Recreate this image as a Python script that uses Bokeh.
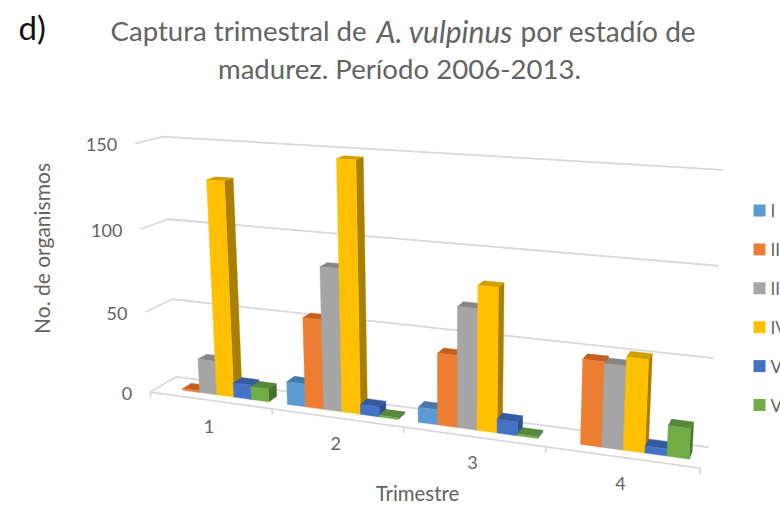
import numpy as np
from bokeh.plotting import figure
from bokeh.models import ColumnDataSource
from bokeh.core.properties import value
from bokeh.embed import file_html
from bokeh.resources import INLINE

quarters = ["1", "2", "3", "4"]
stages = ["I", "II", "III", "IV", "V", "VI"]
stage_I = [0, 14, 9, 0]
stage_II = [1, 54, 42, 48]
stage_III = [21, 85, 70, 47]
stage_IV = [130, 147, 83, 52]
stage_V = [9, 6, 8, 4]
stage_VI = [8, 1, 1, 17]
y_ticks = [0, 50, 100, 150]
series = [stage_I, stage_II, stage_III, stage_IV, stage_V, stage_VI]

front = ["#5B9BD5", "#ED7D31", "#A5A5A5", "#FFC000", "#4472C4", "#70AD47"]
top = ["#4478A8", "#C2601F", "#858585", "#D19E00", "#345AA0", "#55883A"]
side = ["#3B6A94", "#A85418", "#777777", "#A87F00", "#2D5091", "#46702E"]
GRID = "#D9D9D9"
TXT = "#636363"
FONT = "Lato"

# Camera calibration of the chart's 3D box: (quarter axis, depth, value) -> page pixel
cal = [
    (0, 0, 0, 150, 392), (1, 0, 0, 271, 408), (2, 0, 0, 403, 427), (3, 0, 0, 545, 447), (4, 0, 0, 700, 467),
    (0, 1, 0, 177, 376), (4, 1, 0, 708, 447),
    (0, 0, 50, 145, 312), (0, 1, 50, 170, 299), (4, 1, 50, 713, 357),
    (0, 0, 100, 140, 228), (0, 1, 100, 168, 219), (4, 1, 100, 718, 264),
    (0, 0, 150, 135, 143), (0, 1, 150, 162, 136), (4, 1, 150, 723, 171),
]
A = []
for u, d, v, x, y in cal:
    X = [u, d, v / 100, 1]
    A.append(X + [0, 0, 0, 0] + [-x * c for c in X])
    A.append([0, 0, 0, 0] + X + [-y * c for c in X])
P = np.linalg.svd(np.array(A, float))[2][-1].reshape(3, 4)


def proj(u, d, v):
    r = P @ np.array([u, d, v / 100, 1.0])
    return r[0] / r[2], r[1] / r[2]


def poly(pts):
    q = [proj(*c) for c in pts]
    return [a for a, _ in q], [b for _, b in q]


p = figure(width=780, height=506, x_range=(0, 780), y_range=(506, 0),
           output_backend="svg", toolbar_location=None, min_border=0,
           x_axis_type=None, y_axis_type=None, outline_line_color=None)
p.grid.visible = False
p.background_fill_color = "white"

# gridlines on the walls, floor edge, ticks
for t in y_ticks:
    a, b, c = proj(0, 0, t), proj(0, 1, t), proj(4, 1, t)
    p.line([a[0], b[0], c[0]], [a[1], b[1], c[1]], line_color=GRID, line_width=1.8)
a, b = proj(0, 0, 0), proj(4, 0, 0)
p.line([a[0], b[0]], [a[1], b[1]], line_color=GRID, line_width=1.8)
for i in range(5):
    a, b = proj(i, 0, 0), proj(i, 0, -3.5)
    p.line([a[0], b[0]], [a[1], b[1]], line_color=GRID, line_width=1.8)

# bars, painted left to right: side, top, front
U0, BW, D0, D1 = 0.06, 0.142, 0.33, 0.67
xs, ys, fills = [], [], []
for q in range(len(quarters)):
    for s, vals in enumerate(series):
        h = vals[q]
        if h <= 0:
            continue
        l = q + U0 + s * BW
        r = l + BW
        for pts, col in (
            ([(r, D0, 0), (r, D1, 0), (r, D1, h), (r, D0, h)], side[s]),
            ([(l, D0, h), (r, D0, h), (r, D1, h), (l, D1, h)], top[s]),
            ([(l, D0, 0), (r, D0, 0), (r, D0, h), (l, D0, h)], front[s]),
        ):
            a, b = poly(pts)
            xs.append(a)
            ys.append(b)
            fills.append(col)
p.patches("xs", "ys", fill_color="fills", line_color="fills", line_width=0.4,
          source=ColumnDataSource(dict(xs=xs, ys=ys, fills=fills)))


def label(x, y, s, size, color=TXT, align="center", style="normal", angle=0):
    p.text([x], [y], text=[s], text_font=value(FONT), text_font_size=f"{size}px",
           text_color=color, text_align=align, text_baseline="middle",
           text_font_style=style, angle=angle)


# axis labels
for t in y_ticks:
    a = proj(0, 0, t)
    label(a[0] - 18, a[1] + 1, str(t), 18, align="right")
for q, name in enumerate(quarters):
    a = proj(q + 0.5, 0, 0)
    label(a[0] - 1, a[1] + 26, name, 18)
label(417, 492, "Trimestre", 20.4)
label(41, 248, "No. de organismos", 21, angle=np.pi / 2)

# legend
for i, name in enumerate(stages):
    yy = 210 + i * 38.9
    p.rect([759], [yy], width=12, height=12, fill_color=front[i], line_color=None)
    label(770, yy, name, 17, align="left")

# titles
label(18, 26, "d)", 33, color="#111111", align="left")
label(110, 30, "Captura trimestral de", 27.6, align="left")
label(376, 30, "A. vulpinus", 30, align="left", style="italic")
label(520, 30, "por estadío de", 28, align="left")
label(402.5, 68, "madurez. Período  2006-2013.", 27.6)

open("out.html", "w").write(file_html(p, INLINE))
